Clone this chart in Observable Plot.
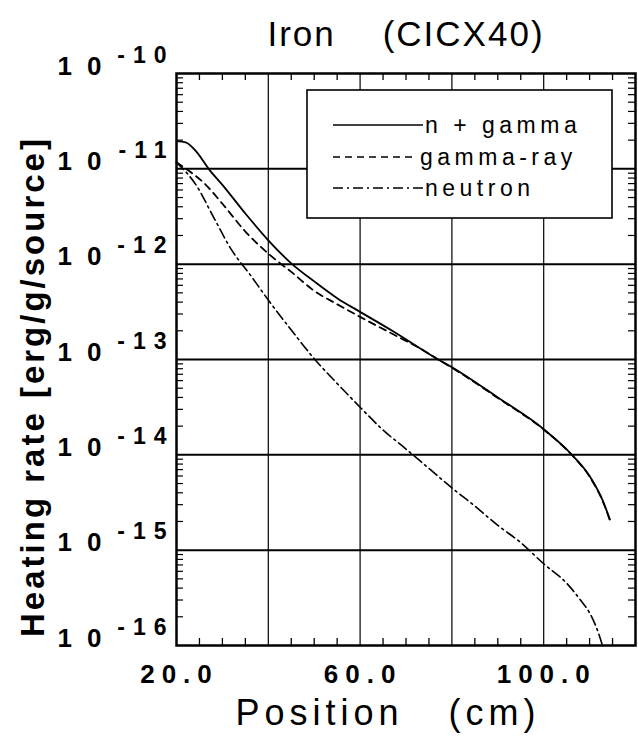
<!DOCTYPE html>
<html>
<head>
<meta charset="utf-8">
<script src="https://cdn.jsdelivr.net/npm/d3@7"></script>
<script src="https://cdn.jsdelivr.net/npm/@observablehq/plot@0.6"></script>
<style>
  body { margin: 0; background: #fff; }
  #chart { position: relative; width: 638px; height: 747px; }
  svg text { white-space: pre; }
</style>
</head>
<body>
<div id="chart"></div>
<script>
// ---- data ----
const positionNGamma = [20, 22, 24.5, 27, 30, 35, 40, 45, 50, 55, 60, 67, 77, 80, 90, 100, 106, 110, 113, 114.4];
const heatingNGamma  = [1.95e-11, 1.9e-11, 1.48e-11, 1.0e-11, 6.8e-12, 3.4e-12, 1.78e-12, 1.02e-12, 6.6e-13, 4.4e-13, 3.16e-13, 2.0e-13, 1.0e-13, 8.3e-14, 4.0e-14, 1.86e-14, 1.02e-14, 6.0e-15, 3.2e-15, 2.1e-15];

const positionGamma = [20, 23, 26, 30, 35, 40, 45, 50, 55, 60, 67, 74, 77, 80, 90, 100, 106, 110, 113, 114.4];
const heatingGamma  = [1.17e-11, 9.3e-12, 7.1e-12, 4.3e-12, 2.2e-12, 1.29e-12, 8.3e-13, 5.25e-13, 3.8e-13, 2.8e-13, 1.86e-13, 1.23e-13, 1.0e-13, 8.2e-14, 3.95e-14, 1.84e-14, 1.01e-14, 5.9e-15, 3.15e-15, 2.08e-15];

const positionNeutron = [20, 24.5, 28, 32, 36, 40, 45, 50, 55, 60, 65, 70, 75, 80, 85, 90, 95, 100, 105, 108, 110, 112, 112.8];
const heatingNeutron  = [1.17e-11, 6.5e-12, 3.16e-12, 1.41e-12, 7.8e-13, 4.2e-13, 2.04e-13, 1.02e-13, 5.6e-14, 3.16e-14, 1.82e-14, 1.15e-14, 7.2e-15, 4.5e-15, 2.9e-15, 1.82e-15, 1.2e-15, 7.2e-16, 4.5e-16, 3.0e-16, 2.2e-16, 1.32e-16, 1.0e-16];

const xTickValues = [20, 60, 100];
const xGridLines = [40, 60, 80, 100];
const xMinorTicks = [25, 30, 35, 45, 50, 55, 65, 70, 75, 85, 90, 95, 105, 110, 115];
const yDecades = [1e-10, 1e-11, 1e-12, 1e-13, 1e-14, 1e-15, 1e-16];
const yExponentLabels = ["-10", "-11", "-12", "-13", "-14", "-15", "-16"];
const yGridLines = [1e-11, 1e-12, 1e-13, 1e-14, 1e-15];
const yMinorTicks = yDecades.slice(1).flatMap(d => [2, 3, 4, 5, 6, 7, 8, 9].map(m => m * d));

const seriesNames = ["n + gamma", "gamma-ray", "neutron"];
const titleText = "Iron    (CICX40)";
const xLabelText = "Position   (cm)";
const yLabelText = "Heating rate [erg/g/source]";

// ---- layout ----
const W = 638, H = 747, mT = 73, mB = 102, mL = 176, mR = 3;
const fw = W - mL - mR, fh = H - mT - mB;
const table = (xs, ys) => xs.map((x, i) => ({x, y: ys[i]}));
const font = "'Liberation Sans', Arial, Helvetica, sans-serif";

const chart = Plot.plot({
  width: W, height: H,
  marginTop: mT, marginBottom: mB, marginLeft: mL, marginRight: mR,
  style: {fontFamily: font, background: "#fff", color: "#000", overflow: "visible"},
  x: {domain: [20, 120], axis: null},
  y: {type: "log", domain: [1e-16, 1e-10], axis: null},
  marks: [
    Plot.gridX(xGridLines, {stroke: "#000", strokeOpacity: 1, strokeWidth: 1.2}),
    Plot.gridY(yGridLines, {stroke: "#000", strokeOpacity: 1, strokeWidth: 2}),
    Plot.tickX(xMinorTicks, {x: d => d, insetTop: fh - 7, stroke: "#000", strokeWidth: 1.3}),
    Plot.tickX(xMinorTicks, {x: d => d, insetBottom: fh - 7, stroke: "#000", strokeWidth: 1.3}),
    Plot.tickY(yMinorTicks, {y: d => d, insetRight: fw - 7, stroke: "#000", strokeWidth: 1.2}),
    Plot.tickY(yMinorTicks, {y: d => d, insetLeft: fw - 7, stroke: "#000", strokeWidth: 1.2}),
    Plot.line(table(positionNeutron, heatingNeutron), {x: "x", y: "y", stroke: "#000", strokeWidth: 1.6, strokeDasharray: "10,4,2,4", curve: "monotone-x"}),
    Plot.line(table(positionGamma, heatingGamma), {x: "x", y: "y", stroke: "#000", strokeWidth: 1.8, strokeDasharray: "7,5", curve: "monotone-x"}),
    Plot.line(table(positionNGamma, heatingNGamma), {x: "x", y: "y", stroke: "#000", strokeWidth: 1.8, curve: "monotone-x"}),
    Plot.frame({stroke: "#000", strokeWidth: 2.5}),
    Plot.text(yDecades, {y: d => d, text: () => "10", frameAnchor: "left", textAnchor: "end", lineAnchor: "bottom", dx: -60, dy: 1, fontSize: 26, fontWeight: "bold", fill: "#000", ariaDescription: "ybase"}),
    Plot.text(yDecades, {y: d => d, text: (d, i) => yExponentLabels[i], frameAnchor: "left", textAnchor: "end", lineAnchor: "bottom", dx: -2, dy: -11, fontSize: 23, fontWeight: "bold", fill: "#000", ariaDescription: "yexp"}),
    Plot.text(xTickValues, {x: d => d, text: d => d.toFixed(1), frameAnchor: "bottom", lineAnchor: "top", dx: 3, dy: 19, fontSize: 26, fontWeight: "bold", fill: "#000", ariaDescription: "xlab"}),
    Plot.text([titleText], {frameAnchor: "top", textAnchor: "middle", lineAnchor: "bottom", dy: -28, fontSize: 35, fill: "#000", ariaDescription: "title"}),
    Plot.text([xLabelText], {frameAnchor: "bottom", textAnchor: "middle", lineAnchor: "top", dx: -18, dy: 54, fontSize: 36, fill: "#000", ariaDescription: "xtitle"}),
    Plot.text([yLabelText], {frameAnchor: "left", textAnchor: "middle", rotate: -90, dx: -143, dy: 27, fontSize: 33, fontWeight: "bold", fill: "#000", ariaDescription: "ytitle"})
  ]
});

// letter spacing of the typewritten-looking labels
const spacing = {ybase: 15, yexp: 8, xlab: 7, title: 2, xtitle: 5, ytitle: 3};
for (const [key, s] of Object.entries(spacing)) {
  d3.select(chart).selectAll(`g[aria-description="${key}"] text`).style("letter-spacing", s + "px");
}

// ---- legend (drawn inside the frame, top right) ----
const svg = d3.select(chart);
const lg = svg.append("g").attr("class", "legend");
lg.append("rect").attr("x", 307).attr("y", 90).attr("width", 305).attr("height", 128)
  .attr("fill", "#fff").attr("stroke", "#000").attr("stroke-width", 1.6);
const dashes = [null, "7,5", "10,4,2,4"];
const rowsY = [125, 157, 188];
seriesNames.forEach((name, i) => {
  lg.append("line").attr("x1", 333).attr("x2", i === 1 ? 414 : 423).attr("y1", rowsY[i]).attr("y2", rowsY[i])
    .attr("stroke", "#000").attr("stroke-width", 1.6).attr("stroke-dasharray", dashes[i]);
  lg.append("text").attr("x", i === 1 ? 420 : 425).attr("y", rowsY[i] + 8)
    .attr("text-anchor", "start")
    .attr("font-family", font).attr("font-size", 23).attr("fill", "#000")
    .style("letter-spacing", "4.5px").text(name);
});

document.getElementById("chart").appendChild(chart);
</script>
</body>
</html>
